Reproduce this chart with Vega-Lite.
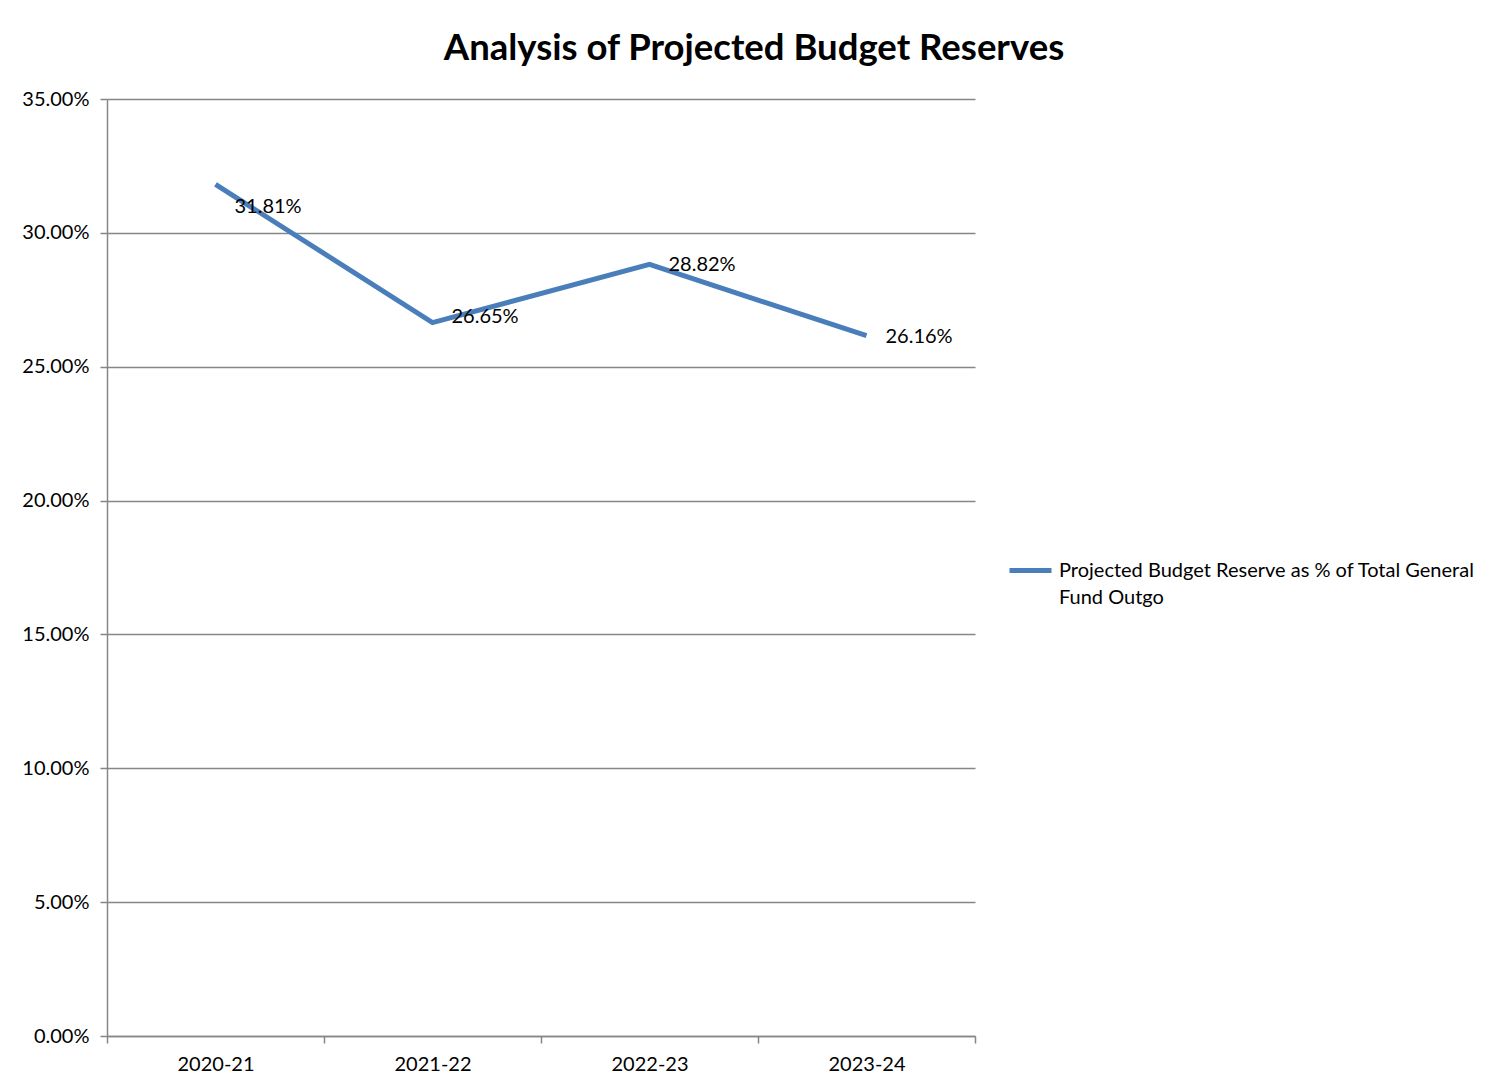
{
  "$schema": "https://vega.github.io/schema/vega-lite/v6.json",
  "width": 868,
  "height": 937,
  "autosize": "none",
  "padding": {"left": 107, "top": 99, "right": 513, "bottom": 54},
  "background": "white",
  "config": {
    "view": {"stroke": null},
    "font": "Lato",
    "style": {"guide-label": {"lineHeight": 27}}
  },
  "title": {
    "text": "Analysis of Projected Budget Reserves",
    "fontSize": 36.5,
    "font": "Lato",
    "fontWeight": "bold",
    "color": "#000000",
    "anchor": "middle",
    "dx": 213,
    "baseline": "alphabetic",
    "offset": -7
  },
  "data": {
    "values": [
      {"year": "2020-21", "series": "Projected Budget Reserve as % of Total General Fund Outgo", "reserve": 0.3181},
      {"year": "2021-22", "series": "Projected Budget Reserve as % of Total General Fund Outgo", "reserve": 0.2665},
      {"year": "2022-23", "series": "Projected Budget Reserve as % of Total General Fund Outgo", "reserve": 0.2882},
      {"year": "2023-24", "series": "Projected Budget Reserve as % of Total General Fund Outgo", "reserve": 0.2616}
    ]
  },
  "encoding": {
    "x": {
      "field": "year",
      "type": "nominal",
      "bandPosition": 0.5,
      "scale": {"type": "band", "paddingInner": 0, "paddingOuter": 0},
      "axis": {
        "title": null,
        "labelAngle": 0,
        "tickBand": "extent",
        "grid": false,
        "domainColor": "#868686",
        "domainWidth": 1.5,
        "tickColor": "#868686",
        "tickWidth": 1.5,
        "tickSize": 7,
        "labelFont": "Lato",
        "labelFontSize": 20,
        "labelColor": "#000000",
        "labelPadding": 11
      }
    },
    "y": {
      "field": "reserve",
      "type": "quantitative",
      "scale": {"domain": [0, 0.35], "nice": false},
      "axis": {
        "title": null,
        "values": [0, 0.05, 0.1, 0.15, 0.2, 0.25, 0.3, 0.35],
        "format": ".2%",
        "grid": true,
        "gridColor": "#868686",
        "gridWidth": 1.5,
        "domainColor": "#868686",
        "domainWidth": 1.5,
        "tickColor": "#868686",
        "tickWidth": 1.5,
        "tickSize": 7,
        "labelFont": "Lato",
        "labelFontSize": 20,
        "labelColor": "#000000",
        "labelPadding": 11
      }
    }
  },
  "layer": [
    {
      "mark": {"type": "line", "strokeWidth": 5},
      "encoding": {
        "color": {
          "field": "series",
          "type": "nominal",
          "scale": {"range": ["#4A7EBB"]},
          "legend": {
            "orient": "none",
            "legendX": 900,
            "legendY": 448,
            "title": null,
            "padding": 0,
            "symbolType": "stroke",
            "symbolSize": 1764,
            "symbolStrokeWidth": 5,
            "labelFont": "Lato",
            "labelFontSize": 20,
            "labelColor": "#000000",
            "labelOffset": 5,
            "labelLimit": 0,
            "labelExpr": "['Projected Budget Reserve as % of Total General', 'Fund Outgo']"
          }
        }
      }
    },
    {
      "transform": [{"filter": "datum.year == '2022-23' || datum.year == '2023-24'"}],
      "mark": {"type": "text", "align": "left", "baseline": "middle", "dx": 19, "dy": 1, "fontSize": 20, "font": "Lato", "color": "#000000"},
      "encoding": {"text": {"field": "reserve", "type": "quantitative", "format": ".2%"}}
    },
    {
      "transform": [{"filter": "datum.year == '2021-22'"}],
      "mark": {"type": "text", "align": "left", "baseline": "middle", "dx": 19, "dy": -6, "fontSize": 20, "font": "Lato", "color": "#000000"},
      "encoding": {"text": {"field": "reserve", "type": "quantitative", "format": ".2%"}}
    },
    {
      "transform": [{"filter": "datum.year == '2020-21'"}],
      "mark": {"type": "text", "align": "left", "baseline": "middle", "dx": 19, "dy": 23, "fontSize": 20, "font": "Lato", "color": "#000000"},
      "encoding": {"text": {"field": "reserve", "type": "quantitative", "format": ".2%"}}
    }
  ]
}
